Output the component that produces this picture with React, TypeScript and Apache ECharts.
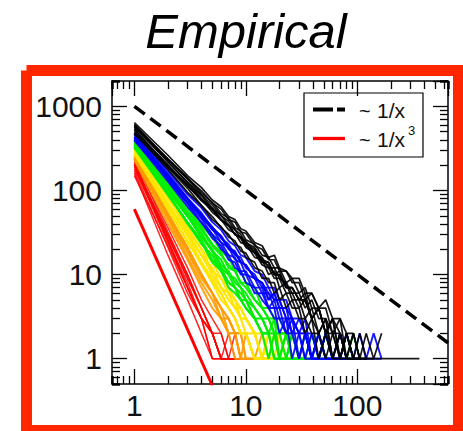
import React, { useEffect, useRef } from "react";
import * as echarts from "echarts";

// degree grid (x values shared by all empirical curves)
const degree = [1, 2, 3, 4, 5, 6, 7, 8, 9, 10, 12, 14, 16, 18, 20, 23, 26, 30, 34, 39, 45, 52, 60, 70, 80, 92, 105, 120, 140, 165, 360];

// counts per degree, one array per curve (aligned to `degree`, ends where the curve ends)
const redCounts = [
  [230, 36, 12, 5, 3, 2, 1, 1, 1],
  [210, 29, 9, 4, 2, 1, 2, 1],
  [190, 24, 7, 3, 2, 1, 1],
  [170, 21, 6, 3, 1, 1, 1, 1],
  [150, 22, 7, 3, 2, 1, 1, 1, 1, 1],
  [220, 26, 7, 3, 1, 1],
  [200, 30, 10, 4, 2, 2, 1, 1, 1, 1, 1],
  [160, 17, 5, 2, 1],
  [180, 28, 9, 4, 2, 1, 1, 2, 1, 1],
  [200, 25, 8, 3, 2, 1, 1, 1],
  [240, 32, 10, 4, 2, 1, 1, 1, 1, 1, 1],
];
const orangeCounts = [
  [270, 54, 21, 10, 6, 4, 3, 2, 2, 1, 1, 2, 1, 1],
  [245, 45, 16, 8, 5, 3, 2, 2, 1, 1, 1, 1],
  [255, 51, 21, 10, 6, 4, 3, 2, 1, 2, 1, 1, 1, 1, 1],
  [230, 40, 15, 7, 4, 3, 2, 1, 1, 1],
  [260, 48, 18, 9, 6, 3, 3, 2, 1, 1, 1, 1, 1],
  [240, 50, 19, 10, 6, 4, 2, 2, 2, 1, 1, 1],
];
const yellowCounts = [
  [330, 82, 34, 20, 11, 9, 6, 5, 3, 3, 2, 1, 2, 1, 1, 1],
  [300, 71, 29, 17, 10, 7, 5, 4, 3, 2, 2, 1, 1, 2, 1, 1],
  [280, 69, 32, 17, 12, 7, 6, 4, 4, 3, 2, 1, 1, 1, 2, 1, 1, 1, 1],
  [310, 66, 29, 14, 9, 6, 4, 3, 2, 2, 1, 1, 2, 1],
  [270, 62, 24, 14, 8, 6, 4, 3, 2, 2, 1, 1, 1, 1, 1, 1, 1],
  [320, 80, 37, 20, 14, 9, 7, 5, 4, 3, 2, 2, 1, 1, 1, 2, 1, 1, 1],
  [290, 60, 25, 13, 8, 5, 4, 3, 2, 2, 1, 1, 2, 1, 1],
];
const greenCounts = [
  [400, 121, 57, 36, 23, 18, 12, 11, 8, 8, 5, 4, 3, 3, 2, 2, 1, 1, 2, 1, 1, 1, 1, 1, 1, 2, 1, 1],
  [370, 108, 50, 31, 19, 15, 10, 9, 7, 6, 4, 3, 3, 2, 2, 1, 2, 1, 1],
  [340, 97, 49, 28, 20, 13, 11, 8, 7, 5, 4, 3, 2, 3, 1, 2, 1, 1, 1, 2, 1, 1, 1, 1],
  [390, 104, 50, 28, 19, 12, 10, 7, 6, 5, 3, 3, 2, 2, 1, 1, 2, 1, 1, 1, 1, 2, 1, 1, 1, 1, 1],
  [350, 93, 40, 24, 14, 11, 7, 6, 5, 4, 3, 2, 1, 2, 1, 1, 1],
  [320, 90, 41, 26, 15, 12, 8, 7, 5, 5, 3, 2, 2, 1, 1, 2, 1, 1, 1, 1],
  [360, 111, 53, 34, 22, 17, 13, 11, 8, 7, 5, 4, 3, 2, 2, 2, 1, 1, 1, 1, 1, 2, 1],
  [380, 119, 63, 38, 28, 19, 16, 11, 11, 8, 7, 4, 4, 3, 3, 2, 2, 1, 1, 1, 2, 1, 1, 1, 1, 1, 1, 1],
  [330, 88, 42, 23, 17, 11, 8, 7, 5, 4, 3, 2, 2, 1, 1, 1, 1, 1],
];
const blueCounts = [
  [480, 171, 90, 62, 42, 34, 25, 22, 17, 16, 11, 10, 7, 7, 5, 5, 3, 3, 2, 2, 1, 2, 1, 1, 1, 1, 2, 1, 1, 1],
  [440, 152, 78, 52, 35, 28, 21, 18, 14, 13, 9, 8, 5, 6, 4, 4, 2, 3, 2, 1, 2, 1, 1, 1, 2, 1],
  [410, 137, 70, 46, 30, 24, 17, 16, 11, 11, 7, 7, 4, 5, 3, 3, 2, 2, 1, 2, 1, 1, 1, 2, 1],
  [460, 148, 80, 48, 35, 24, 21, 15, 14, 10, 9, 6, 6, 4, 4, 2, 3, 1, 2, 1, 1, 2, 1, 1, 1, 1, 1, 1, 2, 1],
  [390, 140, 73, 50, 34, 28, 20, 18, 14, 13, 9, 8, 6, 5, 5, 3, 3, 2, 2, 1, 2, 1, 1, 2, 1],
  [430, 132, 70, 41, 30, 20, 17, 12, 11, 8, 7, 5, 4, 3, 3, 2, 2, 1, 2, 1, 1, 1],
  [470, 159, 81, 54, 36, 29, 21, 19, 14, 13, 9, 8, 5, 6, 4, 4, 3, 2, 3, 1, 2, 1, 1, 1, 2, 1, 1],
  [420, 144, 80, 50, 37, 27, 23, 17, 16, 12, 10, 7, 7, 5, 5, 3, 3, 2, 2, 1, 1, 2, 1, 1, 1],
  [400, 128, 64, 42, 27, 22, 15, 14, 10, 10, 6, 6, 4, 4, 2, 3, 1, 2, 1, 1, 1, 2, 1, 1],
];
const blackCounts = [
  [640, 262, 150, 108, 77, 64, 49, 45, 35, 33, 24, 22, 16, 17, 12, 11, 9, 9, 6, 6, 4, 5, 3, 3, 2, 2, 1],
  [600, 236, 142, 93, 72, 53, 47, 36, 33, 26, 23, 17, 16, 12, 12, 8, 9, 6, 7, 4, 4, 2, 3, 1, 2, 1, 2, 1, 1, 2],
  [560, 221, 124, 87, 61, 50, 39, 34, 27, 25, 18, 16, 12, 12, 9, 8, 6, 6, 4, 5, 3, 3, 2, 2, 1, 1, 1],
  [520, 203, 112, 79, 55, 45, 34, 31, 24, 23, 16, 15, 10, 11, 7, 8, 5, 5, 3, 4, 2, 3, 1, 2, 1],
  [590, 218, 126, 80, 62, 45, 38, 30, 27, 21, 18, 13, 12, 9, 9, 6, 6, 4, 5, 3, 2, 3, 1, 2, 1, 1, 1, 2, 1],
  [500, 197, 118, 77, 60, 45, 39, 30, 28, 22, 19, 14, 13, 10, 10, 7, 7, 5, 5, 3, 4, 2, 3, 1, 2, 1],
  [470, 189, 115, 75, 59, 44, 38, 30, 28, 23, 20, 14, 14, 10, 10, 7, 7, 5, 6, 3, 4, 2, 3, 2, 1, 2, 1, 1],
  [540, 189, 106, 66, 49, 36, 30, 23, 21, 16, 14, 9, 9, 6, 7, 4, 5, 3, 3, 2, 2, 1, 2, 1, 1, 1, 1, 1, 1, 1, 1],
  [610, 232, 136, 88, 67, 50, 43, 34, 30, 24, 21, 15, 14, 10, 11, 7, 7, 5, 5, 3, 4, 2, 2, 1, 2, 1, 1, 1],
  [480, 178, 95, 66, 45, 37, 28, 25, 19, 18, 12, 11, 8, 8, 5, 6, 4, 4, 2, 3, 1, 2, 1, 1, 2, 1],
  [570, 238, 138, 99, 71, 60, 45, 42, 32, 31, 22, 20, 15, 15, 11, 11, 8, 8, 5, 6, 4, 4, 2, 3, 1, 2, 1],
];

// reference power laws (end points)
const invX = [[1, 1000], [650, 1.54]];
const invX3 = [[1, 60], [5, 0.48]];

// axis labels and minor-tick multipliers (2..9 within each decade)
const xMajorLabels = ["1", "10", "100"];
const yMajorLabels = ["1", "10", "100", "1000"];
const minorMultipliers = [2, 3, 4, 5, 6, 7, 8, 9];

const X_MIN = 0.63;
const X_MAX = 650;
const Y_MIN = 0.5;
const Y_MAX = 2000;
const W = 463;
const H = 431;
const GRID = { left: 112, right: 15, top: 81, bottom: 47 };
const MAJOR_LEN = 15;
const MINOR_LEN = 8;

const FONT = '"Liberation Sans", Arial, sans-serif';

function isPow10(v: number) {
  const l = Math.log10(v);
  return Math.abs(l - Math.round(l)) < 1e-6;
}

function groupSeries(groups: number[][], color: string, width: number, opacity: number) {
  return groups.map((arr) => ({
    type: "line",
    data: arr.map((v, i) => [degree[i], v]),
    showSymbol: false,
    symbol: "none",
    silent: true,
    lineStyle: { color, width, opacity },
  }));
}

const tickLine = { color: "#000", width: 1.3 };

// major axis: line + inward ticks of length 15
function majorAxis(position: string, min: number, max: number, label: any) {
  return {
    type: "log",
    position,
    min,
    max,
    axisLine: { show: true, onZero: false, lineStyle: { color: "#000", width: 1.5 } },
    axisTick: { show: true, inside: true, length: MAJOR_LEN, lineStyle: tickLine },
    splitLine: { show: false },
    axisLabel: label,
  };
}

// minor-tick axis: same log span shifted by a multiplier m, so its decade ticks fall at m·10^k
function minorAxis(position: string, min: number, max: number, m: number) {
  return {
    type: "log",
    position,
    min: min / m,
    max: max / m,
    axisLine: { show: false },
    axisTick: { show: true, inside: true, length: MINOR_LEN, lineStyle: tickLine },
    splitLine: { show: false },
    axisLabel: { show: false },
  };
}

export default function App() {
  const ref = useRef<HTMLDivElement>(null);
  useEffect(() => {
    if (!ref.current) return;
    const chart = echarts.init(ref.current, undefined, { renderer: "svg" });
    const labelFmt = (labels: string[]) => (v: number) => {
      if (!isPow10(v)) return "";
      const k = Math.round(Math.log10(v));
      return labels[k] ?? "";
    };
    const xLabel = {
      show: true,
      showMinLabel: false,
      showMaxLabel: false,
      margin: 6,
      fontSize: 30,
      fontFamily: FONT,
      color: "#111",
      formatter: labelFmt(xMajorLabels),
    };
    const yLabel = {
      show: true,
      showMinLabel: false,
      showMaxLabel: false,
      margin: 10,
      fontSize: 30,
      fontFamily: FONT,
      color: "#111",
      formatter: labelFmt(yMajorLabels),
    };
    const legendText = () => ({ fontFamily: FONT, fill: "#111", align: "left", verticalAlign: "middle" });

    chart.setOption({
      animation: false,
      grid: { ...GRID },
      xAxis: [
        majorAxis("bottom", X_MIN, X_MAX, xLabel),
        majorAxis("top", X_MIN, X_MAX, { show: false }),
        ...minorMultipliers.map((m) => minorAxis("bottom", X_MIN, X_MAX, m)),
        ...minorMultipliers.map((m) => minorAxis("top", X_MIN, X_MAX, m)),
      ],
      yAxis: [
        majorAxis("left", Y_MIN, Y_MAX, yLabel),
        majorAxis("right", Y_MIN, Y_MAX, { show: false }),
        ...minorMultipliers.map((m) => minorAxis("left", Y_MIN, Y_MAX, m)),
        ...minorMultipliers.map((m) => minorAxis("right", Y_MIN, Y_MAX, m)),
      ],
      series: [
        ...groupSeries(redCounts, "#ff0000", 1.5, 0.85),
        ...groupSeries(orangeCounts, "#ff9a00", 2, 0.9),
        ...groupSeries(yellowCounts, "#ffe600", 2.2, 0.95),
        ...groupSeries(greenCounts, "#00ee00", 2.1, 0.95),
        ...groupSeries(blueCounts, "#0000ff", 1.9, 0.9),
        ...groupSeries(blackCounts, "#000000", 1.7, 0.9),
        {
          type: "line",
          data: invX,
          showSymbol: false,
          symbol: "none",
          silent: true,
          lineStyle: { color: "#000", width: 3.5, type: [13, 7] },
        },
        {
          type: "line",
          data: invX3,
          showSymbol: false,
          symbol: "none",
          silent: true,
          lineStyle: { color: "#ff0000", width: 3 },
        },
      ],
      graphic: [
        {
          type: "text",
          x: 246,
          y: 31,
          style: {
            text: "Empirical",
            fontSize: 49,
            fontStyle: "italic",
            fontFamily: FONT,
            fill: "#000",
            align: "center",
            verticalAlign: "middle",
            shadowColor: "rgba(0,0,0,0.5)",
            shadowBlur: 4,
            shadowOffsetX: 2,
            shadowOffsetY: 3,
          },
        },
        {
          type: "polyline",
          shape: { points: [[26.5, 70.5], [458.5, 70.5], [458.5, 430.5], [26.5, 430.5], [26.5, 70.5]] },
          style: { stroke: "#ff2600", lineWidth: 11, fill: null },
        },
        {
          type: "rect",
          shape: { x: 304, y: 93, width: 119, height: 64 },
          style: { fill: "#fff", stroke: "#000", lineWidth: 1.2 },
        },
        {
          type: "line",
          shape: { x1: 313, y1: 109.5, x2: 345, y2: 109.5 },
          style: { stroke: "#000", lineWidth: 4, lineDash: [20, 4] },
        },
        {
          type: "line",
          shape: { x1: 313, y1: 138.5, x2: 345, y2: 138.5 },
          style: { stroke: "#ff0000", lineWidth: 3.3 },
        },
        { type: "text", x: 359, y: 111, style: { ...legendText(), text: "~", fontSize: 20 } },
        { type: "text", x: 377, y: 110, style: { ...legendText(), text: "1/x", fontSize: 21 } },
        { type: "text", x: 359, y: 140, style: { ...legendText(), text: "~", fontSize: 20 } },
        { type: "text", x: 377, y: 139, style: { ...legendText(), text: "1/x", fontSize: 21 } },
        { type: "text", x: 408, y: 130.5, style: { ...legendText(), text: "3", fontSize: 13 } },
      ],
    } as any);
    return () => chart.dispose();
  }, []);
  return <div ref={ref} style={{ position: "absolute", left: 0, top: 0, width: W, height: H, background: "#fff" }} />;
}
